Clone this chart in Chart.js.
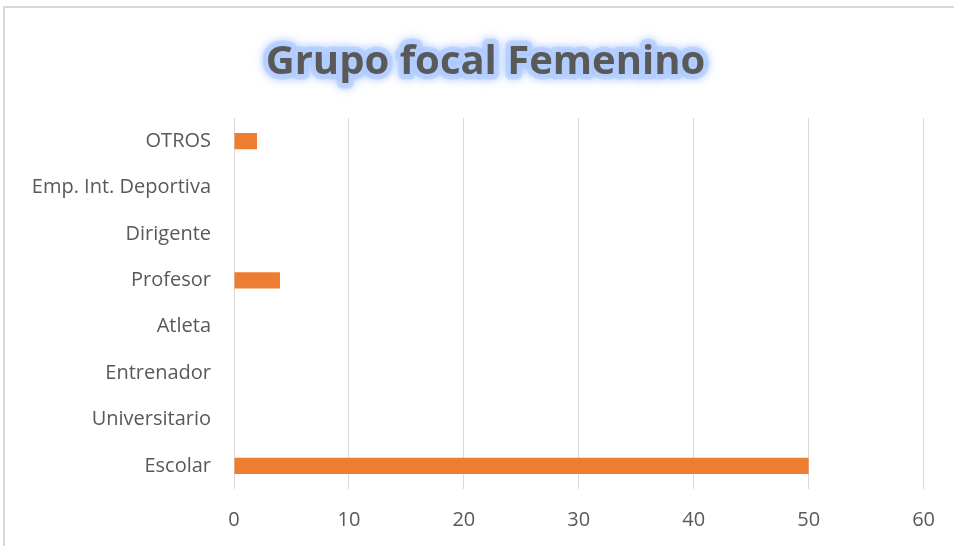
<!DOCTYPE html>
<html>
<head>
<meta charset="utf-8">
<script src="https://cdn.jsdelivr.net/npm/chart.js@4.4.1/dist/chart.umd.min.js"></script>
<style>
  html, body { margin: 0; padding: 0; background: #ffffff; }
  #wrap { position: relative; width: 954px; height: 546px; }
</style>
</head>
<body>
<div id="wrap"><canvas id="c" width="954" height="546"></canvas></div>
<script>
const chartTitle = "Grupo focal Femenino";
const categories = ["OTROS", "Emp. Int. Deportiva", "Dirigente", "Profesor", "Atleta", "Entrenador", "Universitario", "Escolar"];
const values = [2, 0, 0, 4, 0, 0, 0, 50];
const xTicks = [0, 10, 20, 30, 40, 50, 60];

const frameAndGlow = {
  id: 'frameAndGlow',
  afterLayout(chart) {
    const tb = chart.titleBlock;
    if (tb) { tb.left += 15; tb.right += 15; }
  },
  beforeDraw(chart) {
    const ctx = chart.ctx;
    ctx.save();
    ctx.fillStyle = '#ffffff';
    ctx.fillRect(0, 0, chart.width, chart.height);
    ctx.strokeStyle = '#d9d9d9';
    ctx.lineWidth = 2;
    ctx.strokeRect(4, 7, chart.width + 20, chart.height + 20);
    // soft glow behind title
    const tb = chart.titleBlock;
    if (tb) {
      const opts = chart.options.plugins.title;
      const x = (tb.left + tb.right) / 2;
      const y = tb.top + opts.padding.top + opts.font.size * 0.6;
      ctx.font = 'bold ' + opts.font.size + 'px ' + opts.font.family;
      ctx.textAlign = 'center';
      ctx.textBaseline = 'middle';
      ctx.lineJoin = 'round';
      ctx.shadowColor = 'rgba(165,198,255,0.85)';
      ctx.shadowBlur = 10;
      ctx.fillStyle = 'rgba(185,210,255,0.7)';
      ctx.strokeStyle = 'rgba(185,210,255,0.7)';
      ctx.lineWidth = 11;
      ctx.strokeText(chartTitle, x, y);
      ctx.lineWidth = 6;
      ctx.strokeText(chartTitle, x, y);
      ctx.fillText(chartTitle, x, y);
    }
    ctx.restore();
  }
};

new Chart(document.getElementById('c'), {
  type: 'bar',
  data: {
    labels: categories,
    datasets: [{
      data: values,
      backgroundColor: '#ed7d31',
      borderWidth: 0,
      barPercentage: 0.7,
      categoryPercentage: 0.5
    }]
  },
  options: {
    indexAxis: 'y',
    responsive: false,
    animation: false,
    devicePixelRatio: 1,
    layout: { padding: { left: 16, right: 29, top: 0, bottom: 0 } },
    plugins: {
      legend: { display: false },
      tooltip: { enabled: false },
      title: {
        display: true,
        text: chartTitle,
        color: '#595959',
        font: { family: 'Open Sans', size: 40, weight: 'bold' },
        padding: { top: 39, bottom: 31 }
      }
    },
    scales: {
      x: {
        min: 0, max: 60,
        afterBuildTicks(scale) { scale.ticks = xTicks.map(v => ({ value: v })); },
        afterFit(scale) { scale.height = 57; },
        grid: { color: '#d9d9d9', lineWidth: 1, drawTicks: false },
        border: { display: false },
        ticks: { color: '#595959', font: { family: 'Open Sans', size: 20 }, padding: 19 }
      },
      y: {
        afterFit(scale) { scale.width = 218; },
        grid: { display: false, drawTicks: false },
        border: { display: false },
        ticks: { color: '#595959', font: { family: 'Open Sans', size: 20 }, padding: 23 }
      }
    }
  },
  plugins: [frameAndGlow]
});
</script>
</body>
</html>
